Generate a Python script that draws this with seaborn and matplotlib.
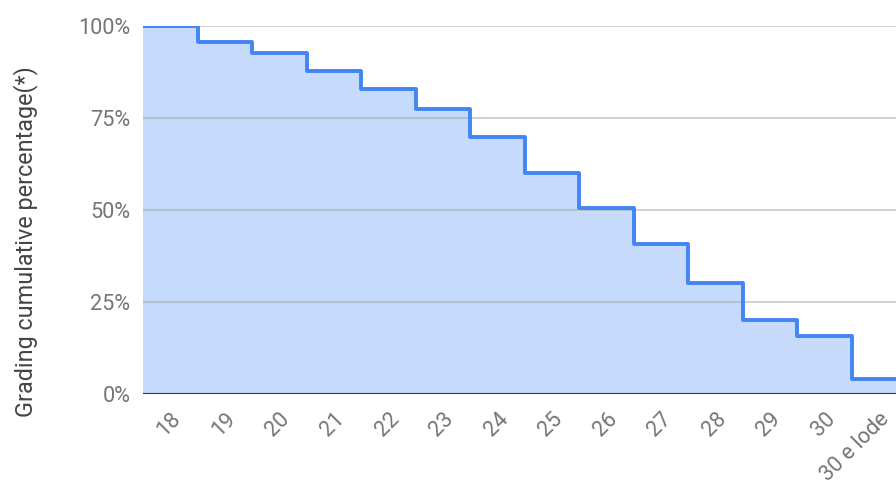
import numpy as np
import seaborn as sns
import matplotlib.pyplot as plt

# cumulative share of grades (percent) per grade
grades = ['18', '19', '20', '21', '22', '23', '24', '25', '26', '27', '28', '29', '30', '30 e lode']
cum_pct = [100.0, 95.6, 92.5, 87.7, 82.8, 77.3, 69.8, 60.0, 50.4, 40.6, 30.1, 20.0, 15.6, 3.9]
y_ticks = [0, 25, 50, 75, 100]

sns.set_style('white')
plt.rcParams['font.family'] = ['Roboto', 'DejaVu Sans']

line_col = '#4285f4'
fill_col = '#c6dafc'

fig = plt.figure(figsize=(8.96, 4.86), dpi=100)
ax = fig.add_axes([0.1596, 0.19, 0.8404, 0.757])

# step edges: each grade covers one band centred on its index
edges = np.arange(len(grades) + 1) - 0.5
vals = list(cum_pct) + [cum_pct[-1]]

ax.fill_between(edges, vals, step='post', color=fill_col, lw=0, zorder=1)
for t in y_ticks[1:]:
    ax.axhline(t, color='#9e9e9e', lw=1.2, alpha=0.55, zorder=2)
sns.lineplot(x=edges, y=vals, drawstyle='steps-post', color=line_col, lw=2.8,
             ax=ax, zorder=3, solid_joinstyle='round', solid_capstyle='butt')
ax.axhline(0, color='#333333', lw=1.5, zorder=4)

ax.set_xlim(-0.5, 13.31)
ax.set_ylim(0, 100)
ax.set_yticks(y_ticks)
ax.set_yticklabels([f'{t}%' for t in y_ticks])
ax.set_xticks(range(len(grades)))
ax.set_xticklabels(grades, rotation=45, ha='right', rotation_mode='anchor')
ax.tick_params(axis='both', length=0, labelsize=15.6, labelcolor='#757575')
ax.tick_params(axis='y', pad=9)
ax.tick_params(axis='x', pad=11)
ax.set_ylabel('Grading cumulative percentage(*)', fontsize=16.8, color='#444444')
ax.yaxis.set_label_coords(0.042, 0.503, transform=fig.transFigure)
sns.despine(ax=ax, left=True, bottom=True, top=True, right=True)

fig.savefig('out.png', dpi=100)
